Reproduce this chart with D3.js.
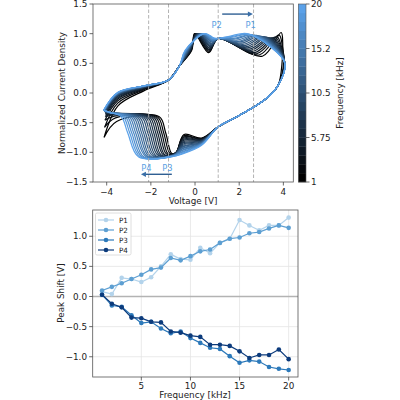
<!DOCTYPE html>
<html><head><meta charset="utf-8">
<script src="https://cdn.jsdelivr.net/npm/d3@7"></script>
<style>body{margin:0;background:#fff}svg{display:block}text{font-family:"DejaVu Sans",sans-serif;fill:#222}</style>
</head><body><svg id="c" width="400" height="400"></svg>
<script>
// ---------------- DATA ----------------
const freqs = [1,2,3,4,5,6,7,8,9,10,11,12,13,14,15,16,17,18,19,20];
// bottom panel: peak shifts [V]
const shiftP1 = [0.08,0.04,0.31,0.29,0.24,0.32,0.50,0.70,0.62,0.61,0.81,0.72,0.89,0.96,1.27,1.18,1.10,1.18,1.18,1.31];
const shiftP2 = [0.10,0.16,0.22,0.29,0.36,0.45,0.48,0.64,0.60,0.67,0.75,0.78,0.89,0.96,0.98,1.05,1.07,1.13,1.18,1.14];
const shiftP3 = [0.03,-0.15,-0.17,-0.31,-0.44,-0.42,-0.53,-0.61,-0.58,-0.69,-0.77,-0.85,-0.87,-0.99,-1.10,-1.06,-1.08,-1.17,-1.20,-1.22];
const shiftP4 = [0.03,-0.12,-0.18,-0.35,-0.36,-0.42,-0.43,-0.58,-0.60,-0.65,-0.67,-0.80,-0.80,-0.82,-0.91,-1.02,-0.97,-0.97,-0.88,-1.04];
const seriesNames = ["P1","P2","P3","P4"];

// top panel: key points of each voltammogram, read per frequency (index 0 = 1 kHz)
const leftVertV = [-4.12,-4.10,-4.08,-4.06,-4.05,-4.05,-4.06,-4.07,-4.08,-4.09,-4.10,-4.10,-4.11,-4.11,-4.12,-4.12,-4.13,-4.13,-4.14,-4.14];
const leftVertI = [-0.75,-0.58,-0.46,-0.40,-0.36,-0.34,-0.33,-0.32,-0.32,-0.31,-0.31,-0.30,-0.30,-0.30,-0.30,-0.29,-0.29,-0.29,-0.29,-0.29];
const upStartI  = [-0.22,-0.17,-0.13,-0.10,-0.08,-0.06,-0.05,-0.04,-0.03,-0.03,-0.02,-0.02,-0.01,-0.01,0.00,0.00,0.00,0.01,0.01,0.01];
const upPlatI   = [0.04,0.06,0.07,0.08,0.09,0.09,0.10,0.10,0.10,0.11,0.11,0.11,0.11,0.12,0.12,0.12,0.12,0.12,0.12,0.12];
const riseV     = [-0.15,-0.17,-0.18,-0.20,-0.21,-0.23,-0.24,-0.26,-0.28,-0.29,-0.31,-0.32,-0.34,-0.35,-0.37,-0.39,-0.40,-0.42,-0.43,-0.45];
const peakAV    = [-0.02,0.00,0.03,0.05,0.08,0.10,0.13,0.15,0.18,0.20,0.23,0.25,0.28,0.30,0.33,0.35,0.38,0.40,0.43,0.45];
const hookV     = [0.62,0.63,0.64,0.65,0.66,0.67,0.68,0.69,0.70,0.71,0.73,0.74,0.75,0.76,0.77,0.78,0.80,0.81,0.83,0.85];
const hookI     = [0.68,0.70,0.72,0.73,0.75,0.76,0.78,0.79,0.80,0.82,0.83,0.84,0.86,0.87,0.88,0.89,0.90,0.91,0.92,0.93];
const troughBV  = [3.05,2.90,2.78,2.69,2.60,2.52,2.45,2.38,2.31,2.24,2.17,2.10,2.03,1.96,1.89,1.82,1.75,1.69,1.64,1.60];
const troughBI  = [0.62,0.64,0.66,0.68,0.70,0.72,0.74,0.76,0.78,0.80,0.82,0.84,0.86,0.87,0.89,0.91,0.92,0.94,0.95,0.96];
const humpBV    = [3.90,3.80,3.70,3.62,3.53,3.45,3.36,3.27,3.20,3.12,3.03,2.95,2.86,2.79,2.70,2.63,2.55,2.48,2.41,2.35];
const humpBI    = [1.02,0.98,0.95,0.94,0.93,0.93,0.93,0.94,0.94,0.95,0.95,0.96,0.96,0.97,0.97,0.98,0.98,0.99,0.99,1.00];
const postBV    = [3.97,3.95,3.90,3.86,3.82,3.78,3.74,3.70,3.67,3.64,3.61,3.58,3.55,3.52,3.50,3.48,3.46,3.44,3.42,3.40];
const postBI    = [0.85,0.80,0.80,0.80,0.80,0.80,0.80,0.80,0.80,0.80,0.80,0.80,0.80,0.79,0.79,0.79,0.79,0.78,0.78,0.78];
const rightVertV= [3.95,4.02,4.04,4.05,4.06,4.06,4.07,4.07,4.07,4.07,4.07,4.07,4.07,4.07,4.07,4.07,4.07,4.07,4.07,4.07];
const rightVertI= [0.55,0.55,0.52,0.50,0.50,0.50,0.50,0.50,0.50,0.50,0.50,0.50,0.50,0.50,0.50,0.50,0.50,0.50,0.50,0.50];
const lowMidI   = [-0.76,-0.77,-0.77,-0.78,-0.79,-0.79,-0.80,-0.81,-0.81,-0.82,-0.83,-0.83,-0.84,-0.85,-0.85,-0.86,-0.86,-0.87,-0.87,-0.88];
const lowHookV  = [-0.50,-0.51,-0.51,-0.52,-0.52,-0.53,-0.53,-0.54,-0.54,-0.55,-0.55,-0.56,-0.56,-0.57,-0.57,-0.58,-0.58,-0.59,-0.59,-0.60];
const lowHookI  = [-0.70,-0.72,-0.74,-0.76,-0.78,-0.80,-0.82,-0.84,-0.86,-0.88,-0.90,-0.91,-0.93,-0.94,-0.96,-0.97,-0.99,-1.00,-1.02,-1.03];
const troughStV = [-0.85,-0.86,-0.87,-0.87,-0.88,-0.89,-0.90,-0.91,-0.91,-0.92,-0.93,-0.94,-0.95,-0.95,-0.96,-0.97,-0.98,-0.99,-0.99,-1.00];
const troughStI = [-1.00,-1.00,-1.01,-1.01,-1.02,-1.02,-1.03,-1.03,-1.03,-1.04,-1.04,-1.04,-1.05,-1.05,-1.05,-1.06,-1.06,-1.06,-1.07,-1.07];
const fanOnsetV = [-1.05,-1.13,-1.21,-1.29,-1.37,-1.44,-1.52,-1.60,-1.68,-1.76,-1.84,-1.92,-2.00,-2.08,-2.16,-2.23,-2.31,-2.39,-2.47,-2.55];
const fanOnsetI = [-1.02,-1.02,-1.03,-1.03,-1.04,-1.04,-1.05,-1.05,-1.05,-1.06,-1.06,-1.06,-1.07,-1.07,-1.07,-1.07,-1.08,-1.08,-1.08,-1.08];
const fanMidV   = [-1.33,-1.42,-1.51,-1.60,-1.69,-1.78,-1.87,-1.96,-2.05,-2.14,-2.24,-2.33,-2.42,-2.51,-2.60,-2.69,-2.78,-2.87,-2.96,-3.05];
const fanTopV   = [-1.62,-1.71,-1.80,-1.89,-1.98,-2.07,-2.16,-2.25,-2.34,-2.43,-2.53,-2.62,-2.71,-2.80,-2.89,-2.98,-3.07,-3.16,-3.25,-3.34];
const preVertV  = [-3.55,-3.60,-3.65,-3.68,-3.70,-3.72,-3.74,-3.75,-3.76,-3.77,-3.78,-3.79,-3.80,-3.81,-3.82,-3.82,-3.83,-3.84,-3.84,-3.85];
const preVertI  = [-0.48,-0.42,-0.39,-0.37,-0.36,-0.35,-0.35,-0.34,-0.34,-0.34,-0.34,-0.33,-0.33,-0.33,-0.33,-0.33,-0.33,-0.33,-0.33,-0.33];
// points shared by all curves
const pinchUpper = [[-1.2,0.22],[-0.7,0.46]];
const crossUpper = [1.05,0.92];
const lowerStart = [[3.75,0.12],[3.2,-0.10],[1.9,-0.40],[1.05,-0.57]];

const peakMarkV = [2.65, 1.05, -1.2, -2.1];   // P1, P2, P3, P4
const topXTicks = [-4,-2,0,2,4];
const topYTicks = [-1.5,-1.0,-0.5,0.0,0.5,1.0,1.5];
const cbTicks = [1,5.75,10.5,15.25,20];
const cbLabels = ["1","5.75","10.5","15.2","20"];
const botXTicks = [5,10,15,20];
const botYTicks = [-1.0,-0.5,0.0,0.5,1.0];

// ---------------- DRAW ----------------
const svg = d3.select("#c");
const fmt = v => (v<0?"\u2212":"") + Math.abs(v).toFixed(1);
const FS = 8.8;
const cmap = d3.interpolateRgb("#000000","#5ba1e8");
const cScale = d3.scaleLinear().domain([1,20]).range([0,1]);

// ---- top panel
const tx = d3.scaleLinear().domain([-4.62,4.45]).range([93,293.3]);
const ty = d3.scaleLinear().domain([-1.5,1.5]).range([182,4]);
svg.append("clipPath").attr("id","clipT").append("rect").attr("x",93).attr("y",4).attr("width",200.3).attr("height",178);

const line = d3.line().x(d=>tx(d[0])).y(d=>ty(d[1])).curve(d3.curveCatmullRom.alpha(0.5));
const gc = svg.append("g").attr("clip-path","url(#clipT)");
freqs.forEach((f,i)=>{
  const pts = [
    [leftVertV[i],leftVertI[i]],
    [-3.5,upStartI[i]],
    [-2.3,upPlatI[i]],
    ...pinchUpper,
    [riseV[i],0.72],
    [peakAV[i],1.0],
    [hookV[i],hookI[i]],
    crossUpper,
    [troughBV[i],troughBI[i]],
    [humpBV[i],humpBI[i]],
    [postBV[i],postBI[i]],
    [rightVertV[i],rightVertI[i]],
    ...lowerStart,
    [0.3,lowMidI[i]],
    [lowHookV[i],lowHookI[i]],
    [troughStV[i],troughStI[i]],
    [fanOnsetV[i],fanOnsetI[i]],
    [fanMidV[i],-0.67],
    [fanTopV[i],-0.40],
    [preVertV[i],preVertI[i]],
    [leftVertV[i],leftVertI[i]]
  ];
  gc.append("path").attr("d",line(pts)).attr("fill","none")
    .attr("stroke",cmap(cScale(f))).attr("stroke-width",1.2).attr("stroke-linejoin","round");
});

// dashed peak markers
svg.append("g").selectAll("line").data(peakMarkV).join("line")
  .attr("x1",d=>tx(d)).attr("x2",d=>tx(d)).attr("y1",4).attr("y2",182)
  .attr("stroke","#aaaaaa").attr("stroke-width",0.9).attr("stroke-dasharray","3.5,2");

// peak labels
const lblCol = "#5b9fe3";
const lbls = [["P1",2.52,1.14],["P2",0.98,1.14],["P3",-1.25,-1.27],["P4",-2.2,-1.27]];
svg.append("g").selectAll("text").data(lbls).join("text")
  .attr("x",d=>tx(d[1])).attr("y",d=>ty(d[2])).attr("text-anchor","middle")
  .attr("dominant-baseline","central").style("font-size","8.4px").style("fill",lblCol).text(d=>d[0]);

// arrows
function arrow(x1,x2,yv){
  const y = ty(yv), a = tx(x1), b = tx(x2), dir = Math.sign(b-a);
  svg.append("line").attr("x1",a).attr("x2",b-dir*4).attr("y1",y).attr("y2",y)
    .attr("stroke","#2f5f93").attr("stroke-width",1.4);
  svg.append("path").attr("d",`M${b},${y} L${b-dir*5},${y-2.6} L${b-dir*5},${y+2.6} Z`).attr("fill","#3a6fa8");
}
arrow(1.23,2.62,1.33);
arrow(-1.05,-2.45,-1.37);

// frame top
svg.append("rect").attr("x",93).attr("y",4).attr("width",200.3).attr("height",178)
  .attr("fill","none").attr("stroke","#555").attr("stroke-width",0.8);
// top axes ticks
const gtx = svg.append("g").attr("transform","translate(0,182)");
topXTicks.forEach(v=>{
  gtx.append("line").attr("x1",tx(v)).attr("x2",tx(v)).attr("y1",0).attr("y2",3.5).attr("stroke","#444").attr("stroke-width",0.8);
  gtx.append("text").attr("x",tx(v)).attr("y",12.5).attr("text-anchor","middle").style("font-size",FS+"px")
    .text((v<0?"\u2212":"")+Math.abs(v));
});
topYTicks.forEach(v=>{
  svg.append("line").attr("x1",89.5).attr("x2",93).attr("y1",ty(v)).attr("y2",ty(v)).attr("stroke","#444").attr("stroke-width",0.8);
  svg.append("text").attr("x",87.3).attr("y",ty(v)).attr("text-anchor","end").attr("dominant-baseline","central")
    .style("font-size",FS+"px").text(fmt(v));
});
svg.append("text").attr("x",193).attr("y",203.5).attr("text-anchor","middle").style("font-size",FS+"px").text("Voltage [V]");
svg.append("text").attr("transform","translate(65,93) rotate(-90)").attr("text-anchor","middle").style("font-size",FS+"px").text("Normalized Current Density");

// colorbar
const cy = d3.scaleLinear().domain([1,20]).range([182,4]);
const bandH = 178/20;
freqs.forEach((f,i)=>{
  svg.append("rect").attr("x",298.3).attr("y",182-(i+1)*bandH).attr("width",7.7).attr("height",bandH+0.3)
    .attr("fill",cmap(cScale(f)));
});
svg.append("rect").attr("x",298.3).attr("y",4).attr("width",7.7).attr("height",178).attr("fill","none").attr("stroke","#555").attr("stroke-width",0.6);
cbTicks.forEach((v,k)=>{
  svg.append("line").attr("x1",306).attr("x2",309.5).attr("y1",cy(v)).attr("y2",cy(v)).attr("stroke","#444").attr("stroke-width",0.8);
  svg.append("text").attr("x",311).attr("y",cy(v)).attr("dominant-baseline","central").style("font-size",FS+"px").text(cbLabels[k]);
});
svg.append("text").attr("transform","translate(342.5,93) rotate(-90)").attr("text-anchor","middle").style("font-size",FS+"px").text("Frequency [kHz]");

// ---- bottom panel
const bx = d3.scaleLinear().domain([0.05,20.95]).range([92.7,298]);
const by = d3.scaleLinear().domain([-1.336,1.436]).range([377,210]);
const gb = svg.append("g");
botXTicks.forEach(v=>gb.append("line").attr("x1",bx(v)).attr("x2",bx(v)).attr("y1",210).attr("y2",377).attr("stroke","#e5e5e5").attr("stroke-width",0.8));
botYTicks.forEach(v=>gb.append("line").attr("x1",92.7).attr("x2",298).attr("y1",by(v)).attr("y2",by(v)).attr("stroke","#e5e5e5").attr("stroke-width",0.8));
gb.append("line").attr("x1",92.7).attr("x2",298).attr("y1",by(0)).attr("y2",by(0)).attr("stroke","#b3b3b3").attr("stroke-width",1.4);

const seriesCols = ["#b3d3eb","#5d9fd2","#2c79ba","#0c3b7c"];
const series = [shiftP1,shiftP2,shiftP3,shiftP4];
const bline = d3.line().x((d,i)=>bx(freqs[i])).y(d=>by(d));
series.forEach((s,k)=>{
  gb.append("path").attr("d",bline(s)).attr("fill","none").attr("stroke",seriesCols[k]).attr("stroke-width",1.2);
  gb.append("g").selectAll("circle").data(s).join("circle")
    .attr("cx",(d,i)=>bx(freqs[i])).attr("cy",d=>by(d)).attr("r",2.3).attr("fill",seriesCols[k]);
});
svg.append("rect").attr("x",92.7).attr("y",210).attr("width",205.3).attr("height",167)
  .attr("fill","none").attr("stroke","#555").attr("stroke-width",0.8);
botXTicks.forEach(v=>{
  svg.append("line").attr("x1",bx(v)).attr("x2",bx(v)).attr("y1",377).attr("y2",380.5).attr("stroke","#444").attr("stroke-width",0.8);
  svg.append("text").attr("x",bx(v)).attr("y",389).attr("text-anchor","middle").style("font-size",FS+"px").text(v);
});
botYTicks.forEach(v=>{
  svg.append("line").attr("x1",89.2).attr("x2",92.7).attr("y1",by(v)).attr("y2",by(v)).attr("stroke","#444").attr("stroke-width",0.8);
  svg.append("text").attr("x",87).attr("y",by(v)).attr("text-anchor","end").attr("dominant-baseline","central").style("font-size",FS+"px").text(fmt(v));
});
svg.append("text").attr("x",195).attr("y",398).attr("text-anchor","middle").style("font-size",FS+"px").text("Frequency [kHz]");
svg.append("text").attr("transform","translate(64,293) rotate(-90)").attr("text-anchor","middle").style("font-size",FS+"px").text("Peak Shift [V]");

// legend
const lg = svg.append("g");
lg.append("rect").attr("x",95.5).attr("y",213).attr("width",35.5).attr("height",42).attr("rx",1.5)
  .attr("fill","#fff").attr("fill-opacity",0.85).attr("stroke","#d5d5d5").attr("stroke-width",0.8);
seriesNames.forEach((n,k)=>{
  const y = 220 + k*10;
  lg.append("line").attr("x1",98).attr("x2",114).attr("y1",y).attr("y2",y).attr("stroke",seriesCols[k]).attr("stroke-width",1.2);
  lg.append("circle").attr("cx",106).attr("cy",y).attr("r",2.3).attr("fill",seriesCols[k]);
  lg.append("text").attr("x",119).attr("y",y).attr("dominant-baseline","central").style("font-size","7.2px").text(n);
});
</script></body></html>
